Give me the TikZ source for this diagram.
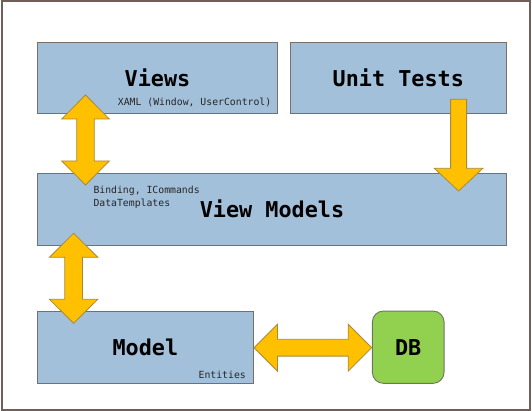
\documentclass[tikz,border=0pt]{standalone}
\usepackage{fontspec}
\newfontfamily\monofont{DejaVu Sans Mono}
\usetikzlibrary{calc}
\definecolor{boxfill}{HTML}{A3C0DA}
\definecolor{boxline}{HTML}{7A6E6A}
\definecolor{arrowfill}{HTML}{FFC000}
\definecolor{arrowline}{HTML}{A8893A}
\definecolor{dbfill}{HTML}{92D050}
\definecolor{dbline}{HTML}{6E7462}
\definecolor{frameline}{HTML}{6F5F58}
\newcommand{\blockdblarrow}[5]{% from, to, head length, head half width, shaft half width
  \draw[blockarrow] (#1)
    -- ($(#1)!#3!(#2)!#4!90:(#2)$)
    -- ($(#1)!#3!(#2)!#5!90:(#2)$)
    -- ($(#2)!#3!(#1)!#5!-90:(#1)$)
    -- ($(#2)!#3!(#1)!#4!-90:(#1)$)
    -- (#2)
    -- ($(#2)!#3!(#1)!#4!90:(#1)$)
    -- ($(#2)!#3!(#1)!#5!90:(#1)$)
    -- ($(#1)!#3!(#2)!#5!-90:(#2)$)
    -- ($(#1)!#3!(#2)!#4!-90:(#2)$)
    -- cycle;}
\newcommand{\blocksinglearrow}[5]{% from (tail), to (tip), head length, head half width, shaft half width
  \draw[blockarrow] ($(#1)!#5!90:(#2)$)
    -- ($(#2)!#3!(#1)!#5!-90:(#1)$)
    -- ($(#2)!#3!(#1)!#4!-90:(#1)$)
    -- (#2)
    -- ($(#2)!#3!(#1)!#4!90:(#1)$)
    -- ($(#2)!#3!(#1)!#5!90:(#1)$)
    -- ($(#1)!#5!-90:(#2)$)
    -- cycle;}
\tikzset{
  layerbox/.style={draw=boxline, line width=0.9pt, fill=boxfill, inner sep=0pt,
    font=\monofont\bfseries\fontsize{21.8}{24}\selectfont},
  dbbox/.style={draw=dbline, line width=0.9pt, fill=dbfill, rounded corners=11pt, inner sep=0pt,
    font=\monofont\bfseries\fontsize{21.8}{24}\selectfont},
  smalltext/.style={inner sep=0pt, font=\monofont\fontsize{9.8}{12}\selectfont, text=black!85},
  blockarrow/.style={draw=arrowline, line width=0.8pt, fill=arrowfill, line join=miter},
}
\begin{document}
\begin{tikzpicture}[x=1pt, y=-1pt]
  \useasboundingbox (0,0) rectangle (532,411);
  \draw[frameline, line width=2pt] (1.5,1.5) rectangle (530,409.5);

  \node[layerbox, minimum width=240.3pt, minimum height=71pt] (views) at (157.5,77.5) {Views};
  \node[layerbox, minimum width=216.7pt, minimum height=71pt] (unit) at (398.3,77.5) {Unit Tests};
  \node[layerbox, minimum width=469.4pt, minimum height=72pt] (vm) at (272,209) {View Models};
  \node[layerbox, minimum width=216.2pt, minimum height=72.3pt] (model) at (145.4,347.2) {Model};
  \node[dbbox, minimum width=71.7pt, minimum height=72.3pt] (db) at (408.2,347.2) {DB};

  \node[smalltext, anchor=base east] (xaml) at (271.5,105.3) {XAML (Window, UserControl)};
  \node[smalltext, anchor=base west] (bind) at (93.3,194) {Binding, ICommands};
  \node[smalltext, anchor=base west] (templ) at (93.3,206.3) {DataTemplates};
  \node[smalltext, anchor=base east] (ent) at (246,378) {Entities};

  % arrow end points
  \coordinate (vtip) at (85.5,95);
  \coordinate (vmtip) at (85.5,185);
  \coordinate (vmtip2) at (73.6,233.3);
  \coordinate (mtip) at (73.6,323.3);
  \coordinate (mtip2) at (254,347.7);
  \coordinate (dbtip) at (371.7,347.7);
  \coordinate (utail) at (458.6,99.3);
  \coordinate (utip) at (458.6,191);

  \blockdblarrow{vtip}{vmtip}{24pt}{23.8pt}{8.8pt}
  \blockdblarrow{vmtip2}{mtip}{24pt}{24.2pt}{8.8pt}
  \blockdblarrow{mtip2}{dbtip}{23.5pt}{23.5pt}{8.4pt}
  \blocksinglearrow{utail}{utip}{22.7pt}{24.3pt}{8pt}
\end{tikzpicture}
\end{document}
